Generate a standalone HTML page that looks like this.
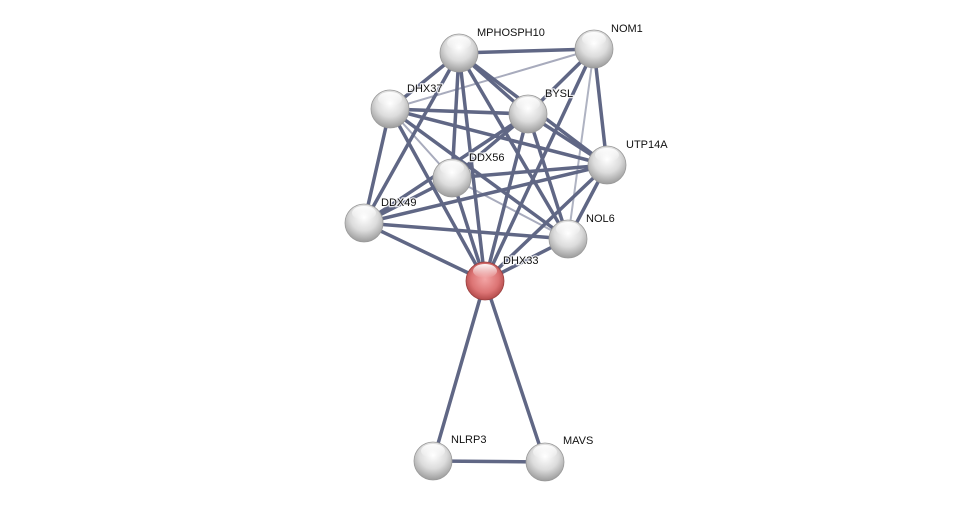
<!DOCTYPE html>
<html><head><meta charset="utf-8"><style>
html,body{margin:0;padding:0;background:#fff;}
svg{display:block}
text{font-family:"Liberation Sans",sans-serif;font-size:11px;fill:#111;stroke:#fff;stroke-width:2.5px;paint-order:stroke;stroke-opacity:0.8}
</style></head><body>
<svg width="976" height="507" viewBox="0 0 976 507">
<defs>
<radialGradient id="g" cx="50%" cy="35%" r="65%">
<stop offset="0" stop-color="#ffffff"/><stop offset="0.55" stop-color="#dcdcdc"/><stop offset="1" stop-color="#9c9c9c"/></radialGradient>
<radialGradient id="r" cx="50%" cy="45%" r="60%">
<stop offset="0" stop-color="#f3a5a5"/><stop offset="0.6" stop-color="#dc7474"/><stop offset="1" stop-color="#a83f3f"/></radialGradient>
<linearGradient id="hl" x1="0" y1="0" x2="0" y2="1"><stop offset="0" stop-color="#fff" stop-opacity="0.95"/><stop offset="1" stop-color="#fff" stop-opacity="0"/></linearGradient>
</defs>
<g stroke="#4f5778" stroke-width="3.5" stroke-linecap="round" opacity="0.9">
<line x1="459" y1="53" x2="594" y2="49"/>
<line x1="459" y1="53" x2="390" y2="109"/>
<line x1="459" y1="53" x2="528" y2="114"/>
<line x1="459" y1="53" x2="607" y2="165"/>
<line x1="459" y1="53" x2="452" y2="178"/>
<line x1="459" y1="53" x2="364" y2="223"/>
<line x1="459" y1="53" x2="568" y2="239"/>
<line x1="459" y1="53" x2="485" y2="281"/>
<line x1="594" y1="49" x2="390" y2="109" stroke-width="2" opacity="0.55"/>
<line x1="594" y1="49" x2="528" y2="114"/>
<line x1="594" y1="49" x2="607" y2="165"/>
<line x1="594" y1="49" x2="568" y2="239" stroke-width="2" opacity="0.5"/>
<line x1="594" y1="49" x2="485" y2="281"/>
<line x1="390" y1="109" x2="528" y2="114"/>
<line x1="390" y1="109" x2="607" y2="165"/>
<line x1="390" y1="109" x2="452" y2="178" stroke-width="2" opacity="0.55"/>
<line x1="390" y1="109" x2="364" y2="223"/>
<line x1="390" y1="109" x2="568" y2="239"/>
<line x1="390" y1="109" x2="485" y2="281"/>
<line x1="528" y1="114" x2="607" y2="165"/>
<line x1="528" y1="114" x2="452" y2="178"/>
<line x1="528" y1="114" x2="364" y2="223"/>
<line x1="528" y1="114" x2="568" y2="239"/>
<line x1="528" y1="114" x2="485" y2="281"/>
<line x1="607" y1="165" x2="452" y2="178"/>
<line x1="607" y1="165" x2="364" y2="223"/>
<line x1="607" y1="165" x2="568" y2="239"/>
<line x1="607" y1="165" x2="485" y2="281"/>
<line x1="452" y1="178" x2="364" y2="223"/>
<line x1="452" y1="178" x2="568" y2="239" stroke-width="2" opacity="0.55"/>
<line x1="452" y1="178" x2="485" y2="281"/>
<line x1="364" y1="223" x2="568" y2="239"/>
<line x1="364" y1="223" x2="485" y2="281"/>
<line x1="568" y1="239" x2="485" y2="281"/>
<line x1="485" y1="281" x2="433" y2="461"/>
<line x1="485" y1="281" x2="545" y2="462"/>
<line x1="433" y1="461" x2="545" y2="462"/>
</g>
<g stroke="#9a9a9a" stroke-width="0.8">
<circle cx="459" cy="53" r="19" fill="url(#g)"/>
<circle cx="594" cy="49" r="19" fill="url(#g)"/>
<circle cx="390" cy="109" r="19" fill="url(#g)"/>
<circle cx="528" cy="114" r="19" fill="url(#g)"/>
<circle cx="607" cy="165" r="19" fill="url(#g)"/>
<circle cx="452" cy="178" r="19" fill="url(#g)"/>
<circle cx="364" cy="223" r="19" fill="url(#g)"/>
<circle cx="568" cy="239" r="19" fill="url(#g)"/>
<circle cx="485" cy="281" r="19" fill="url(#r)" stroke="#9a4040"/>
<circle cx="433" cy="461" r="19" fill="url(#g)"/>
<circle cx="545" cy="462" r="19" fill="url(#g)"/>
</g>
<g fill="url(#hl)">
<ellipse cx="459" cy="43" rx="12" ry="7"/>
<ellipse cx="594" cy="39" rx="12" ry="7"/>
<ellipse cx="390" cy="99" rx="12" ry="7"/>
<ellipse cx="528" cy="104" rx="12" ry="7"/>
<ellipse cx="607" cy="155" rx="12" ry="7"/>
<ellipse cx="452" cy="168" rx="12" ry="7"/>
<ellipse cx="364" cy="213" rx="12" ry="7"/>
<ellipse cx="568" cy="229" rx="12" ry="7"/>
<ellipse cx="485" cy="271" rx="12" ry="7"/>
<ellipse cx="433" cy="451" rx="12" ry="7"/>
<ellipse cx="545" cy="452" rx="12" ry="7"/>
</g>
<text x="477" y="36">MPHOSPH10</text>
<text x="611" y="32">NOM1</text>
<text x="407" y="92">DHX37</text>
<text x="545" y="97">BYSL</text>
<text x="626" y="148">UTP14A</text>
<text x="469" y="161">DDX56</text>
<text x="381" y="206">DDX49</text>
<text x="586" y="222">NOL6</text>
<text x="503" y="264">DHX33</text>
<text x="451" y="443">NLRP3</text>
<text x="563" y="444">MAVS</text>
</svg>
</body></html>
